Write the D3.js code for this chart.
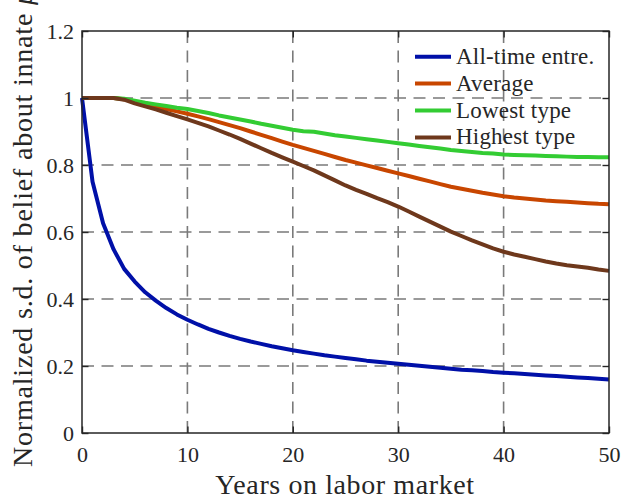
<!DOCTYPE html>
<html lang="en">
<head>
    <meta charset="UTF-8">
    <title>Normalized s.d. of belief</title>
    <style>
        body { margin: 0; background: #fff; }
    </style>
</head>
<body>
    <svg width="622" height="503"></svg>
    <script src="https://cdn.jsdelivr.net/npm/d3@7"></script>
    <script>
        // years 0..50
        var years = d3.range(0, 51)
        var allTime = [1, 0.75, 0.626, 0.548, 0.49, 0.452, 0.42, 0.395, 0.373, 0.354, 0.338,
            0.324, 0.311, 0.300, 0.290, 0.281, 0.273, 0.266, 0.259, 0.253, 0.247,
            0.242, 0.237, 0.232, 0.228, 0.224, 0.220, 0.216, 0.213, 0.210, 0.207,
            0.204, 0.201, 0.198, 0.195, 0.192, 0.189, 0.187, 0.185, 0.182, 0.180,
            0.178, 0.176, 0.174, 0.172, 0.170, 0.168, 0.166, 0.164, 0.162, 0.160]
        var average = [1, 1, 1, 1, 0.996, 0.99, 0.982, 0.974, 0.967, 0.960, 0.953,
            0.945, 0.937, 0.928, 0.919, 0.910, 0.900, 0.890, 0.880, 0.870, 0.860,
            0.851, 0.842, 0.833, 0.824, 0.815, 0.807, 0.799, 0.791, 0.783, 0.775,
            0.767, 0.759, 0.751, 0.743, 0.735, 0.729, 0.723, 0.717, 0.712, 0.707,
            0.703, 0.700, 0.697, 0.694, 0.692, 0.690, 0.688, 0.686, 0.684, 0.683]
        var lowest = [1, 1, 1, 1, 0.998, 0.992, 0.986, 0.981, 0.976, 0.971, 0.967,
            0.961, 0.955, 0.948, 0.942, 0.936, 0.930, 0.923, 0.917, 0.911, 0.905,
            0.901, 0.899, 0.894, 0.889, 0.885, 0.881, 0.877, 0.873, 0.869, 0.865,
            0.861, 0.857, 0.853, 0.849, 0.845, 0.842, 0.839, 0.836, 0.834, 0.831,
            0.830, 0.829, 0.828, 0.827, 0.826, 0.825, 0.824, 0.824, 0.823, 0.823]
        var highest = [1, 1, 1, 1, 0.995, 0.984, 0.975, 0.966, 0.956, 0.946, 0.936,
            0.926, 0.915, 0.903, 0.891, 0.878, 0.864, 0.850, 0.836, 0.823, 0.810,
            0.797, 0.784, 0.769, 0.754, 0.739, 0.726, 0.714, 0.701, 0.689, 0.676,
            0.661, 0.646, 0.631, 0.616, 0.601, 0.588, 0.575, 0.563, 0.551, 0.541,
            0.533, 0.526, 0.519, 0.512, 0.506, 0.501, 0.497, 0.493, 0.488, 0.484]

        var names = ['All-time entre.', 'Average', 'Lowest type', 'Highest type']
        var colors = ['#0010a8', '#c84600', '#33cc33', '#6e381c']
        var seriesList = [allTime, average, lowest, highest]
        var xTicks = [0, 10, 20, 30, 40, 50]
        var yTicks = [0, 0.2, 0.4, 0.6, 0.8, 1, 1.2]

        var serif = '"Liberation Serif", "DejaVu Serif", serif'
        var margin = {left: 82, top: 31, right: 13, bottom: 70}
        var W = 622 - margin.left - margin.right
        var H = 503 - margin.top - margin.bottom

        var svg = d3.select('svg')
        var g = svg.append('g').attr('transform', 'translate(' + margin.left + ',' + margin.top + ')')

        var x = d3.scaleLinear().domain([0, 50]).range([0, W])
        var y = d3.scaleLinear().domain([0, 1.2]).range([H, 0])

        // grid
        g.append('g').selectAll('line')
            .data(xTicks.slice(1, -1)).enter().append('line')
            .attr('x1', d => x(d)).attr('x2', d => x(d))
            .attr('y1', 0).attr('y2', H)
            .attr('stroke', '#7a7a7a').attr('stroke-width', 1.6)
            .attr('stroke-dasharray', '12,7.5')
        g.append('g').selectAll('line')
            .data(yTicks.slice(1, -1)).enter().append('line')
            .attr('y1', d => y(d)).attr('y2', d => y(d))
            .attr('x1', 0).attr('x2', W)
            .attr('stroke', '#7a7a7a').attr('stroke-width', 1.6)
            .attr('stroke-dasharray', '12,7.5')

        // curves
        var line = d3.line()
            .x((d, i) => x(years[i]))
            .y(d => y(d))
        seriesList.forEach(function(s, k) {
            g.append('path')
                .attr('d', line(s))
                .attr('fill', 'none')
                .attr('stroke', colors[k])
                .attr('stroke-width', 4)
                .attr('stroke-linejoin', 'round')
        })

        // axes
        var fmt = d => String(+d.toFixed(1))
        g.append('g').attr('transform', 'translate(0,' + H + ')')
            .call(d3.axisBottom(x).tickValues(xTicks).tickSize(-6.5).tickPadding(13).tickFormat(fmt))
        g.append('g')
            .call(d3.axisLeft(y).tickValues(yTicks).tickSize(-6.5).tickPadding(8).tickFormat(fmt))
        g.append('g').attr('transform', 'translate(' + W + ',0)')
            .call(d3.axisRight(y).tickValues(yTicks).tickSize(-6.5).tickFormat(''))
        g.append('g')
            .call(d3.axisTop(x).tickValues(xTicks).tickSize(-6.5).tickFormat(''))
        g.selectAll('.domain').remove()
        g.selectAll('.tick line').attr('stroke', '#262626').attr('stroke-width', 1.4)
        g.selectAll('.tick text')
            .attr('font-family', serif)
            .attr('font-size', 22).attr('fill', '#262626')

        g.append('rect')
            .attr('width', W).attr('height', H)
            .attr('fill', 'none').attr('stroke', '#262626').attr('stroke-width', 1.5)

        // axis titles
        svg.append('text')
            .attr('x', 345).attr('y', 494)
            .attr('text-anchor', 'middle')
            .attr('font-family', serif).attr('font-size', 28).attr('fill', '#262626')
            .attr('letter-spacing', 0.6)
            .text('Years on labor market')
        var yt = svg.append('text')
            .attr('transform', 'translate(32,467) rotate(-90)')
            .attr('text-anchor', 'start')
            .attr('font-family', serif).attr('font-size', 28).attr('fill', '#262626')
            .attr('letter-spacing', 0.8)
        yt.append('tspan').text('Normalized s.d. of belief about innate ')
        yt.append('tspan').attr('font-style', 'italic').text('μ')

        // legend
        var leg = svg.append('g').selectAll('g')
            .data(names).enter().append('g')
            .attr('transform', (d, i) => 'translate(415,' + (56.7 + i * 26.9) + ')')
        leg.append('line')
            .attr('x1', 0).attr('x2', 36)
            .attr('stroke', (d, i) => colors[i]).attr('stroke-width', 4)
        leg.append('text')
            .attr('x', 41).attr('y', 7)
            .attr('font-family', serif).attr('font-size', 23).attr('fill', '#262626')
            .attr('letter-spacing', 0.2)
            .text(d => d)
    </script>
</body>
</html>
